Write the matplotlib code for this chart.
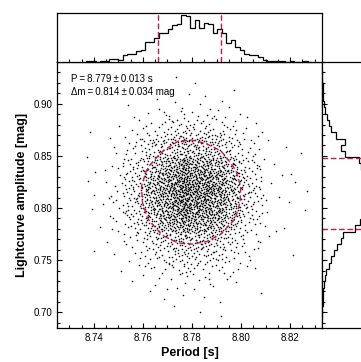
import numpy as np
import matplotlib.pyplot as plt
from matplotlib.ticker import MultipleLocator

plt.rcParams['font.family'] = ['Liberation Sans', 'DejaVu Sans']

# fit result quoted in the panel
P_mean, P_err = 8.779, 0.013
A_mean, A_err = 0.814, 0.034

# period distribution (top histogram), 50 bins
period_range = (8.737, 8.829)
period_counts = [3, 3, 1, 2, 3, 8, 8, 6, 22, 24,
                 26, 35, 38, 65, 65, 75, 93, 91, 104, 118,
                 121, 150, 146, 107, 134, 107, 123, 120, 93, 104,
                 91, 59, 70, 48, 37, 25, 21, 21, 16, 5,
                 3, 2, 2, 2, 1, 3, 1, 1, 2, 1]

# amplitude distribution (right histogram), 40 bins
amp_range = (0.694, 0.932)
amp_counts = [1, 1, 2, 3, 4, 6, 9, 14, 23, 30,
              38, 47, 60, 68, 105, 120, 145, 155, 165, 170,
              178, 170, 160, 150, 125, 118, 74, 60, 74, 45,
              28, 21, 15, 8, 5, 3, 2, 2, 1, 1]

red = '#c8184c'
dash = (0, (4, 2))


def radical_inverse(n, base):
    out = np.zeros(len(n))
    f = 1.0 / base
    n = n.copy()
    while n.any():
        out += f * (n % base)
        n //= base
        f /= base
    return out


def from_hist(counts, lim, q):
    counts = np.asarray(counts, float)
    edges = np.linspace(lim[0], lim[1], len(counts) + 1)
    cdf = np.concatenate([[0], np.cumsum(counts)]) / counts.sum()
    return np.interp(q, cdf, edges), edges


N = int(sum(period_counts))
idx = np.arange(1, N + 1)
per, p_edges = from_hist(period_counts, period_range, radical_inverse(idx, 2))
amp, a_edges = from_hist(amp_counts, amp_range, radical_inverse(idx, 3))

fig = plt.figure(figsize=(3.61, 3.62), dpi=100)
ax = fig.add_axes([0.158, 0.094, 0.734, 0.735])
ax_top = fig.add_axes([0.158, 0.829, 0.734, 0.135], sharex=ax)
ax_r = fig.add_axes([0.892, 0.094, 0.136, 0.735], sharey=ax)

ax.scatter(per, amp, s=1.3, c='#111111', marker='o', linewidths=0, zorder=1)

# 68% region from a lightly smoothed 2d histogram
H, xe, ye = np.histogram2d(per, amp, bins=[16, 16],
                           range=[[8.737, 8.829], [0.694, 0.932]])
Hp = np.pad(H, 1)
w = np.array([1., 4., 1.])
Hs = np.zeros_like(H)
for i in range(3):
    for j in range(3):
        Hs += w[i] * w[j] * Hp[i:i + H.shape[0], j:j + H.shape[1]]
flat = np.sort(Hs.ravel())[::-1]
cum = np.cumsum(flat) / flat.sum()
lvl = flat[np.searchsorted(cum, 0.68)]
xc = 0.5 * (xe[1:] + xe[:-1])
yc = 0.5 * (ye[1:] + ye[:-1])
ax.contour(xc, yc, Hs.T, levels=[lvl], colors=red, linewidths=1.0,
           linestyles=[dash], zorder=3)

ax.text(0.052, 0.955, 'P\u2009=\u20098.779\u2009\u00b1\u20090.013 s',
        transform=ax.transAxes, fontsize=7, va='top')
ax.text(0.052, 0.905, '\u0394m\u2009=\u20090.814\u2009\u00b1\u20090.034 mag',
        transform=ax.transAxes, fontsize=7, va='top')

ax.set_xlim(8.725, 8.833)
ax.set_ylim(0.685, 0.940)
ax.xaxis.set_major_locator(MultipleLocator(0.02))
ax.xaxis.set_minor_locator(MultipleLocator(0.005))
ax.yaxis.set_major_locator(MultipleLocator(0.05))
ax.yaxis.set_minor_locator(MultipleLocator(0.01))
ax.tick_params(which='both', direction='in', top=False, right=False,
               labelsize=7, pad=3.5, width=0.8)
ax.tick_params(which='major', length=3.5)
ax.tick_params(which='minor', length=2)
ax.set_xlabel('Period [s]', fontsize=9, fontweight='bold', labelpad=3)
ax.set_ylabel('Lightcurve amplitude [mag]', fontsize=9, fontweight='bold',
              labelpad=4)

# top histogram
ax_top.stairs(period_counts, p_edges, color='k', lw=0.9)
ax_top.axvline(P_mean - P_err, color=red, lw=1.0, ls=dash)
ax_top.axvline(P_mean + P_err, color=red, lw=1.0, ls=dash)
ax_top.set_ylim(0, 156)
ax_top.tick_params(which='both', direction='in', labelbottom=False,
                   left=False, labelleft=False, width=0.8)
ax_top.tick_params(which='major', length=3.5)
ax_top.tick_params(which='minor', length=2)

# right histogram
ax_r.stairs(amp_counts, a_edges, color='k', lw=0.9, orientation='horizontal')
ax_r.axhline(A_mean - A_err, color=red, lw=1.0, ls=dash)
ax_r.axhline(A_mean + A_err, color=red, lw=1.0, ls=dash)
ax_r.set_xlim(0, 156)
ax_r.tick_params(which='both', direction='in', labelleft=False,
                 bottom=False, labelbottom=False, width=0.8)
ax_r.tick_params(which='major', length=3.5)
ax_r.tick_params(which='minor', length=2)

for a in (ax, ax_top, ax_r):
    for s in a.spines.values():
        s.set_linewidth(0.9)

fig.savefig('out.png', dpi=100)
